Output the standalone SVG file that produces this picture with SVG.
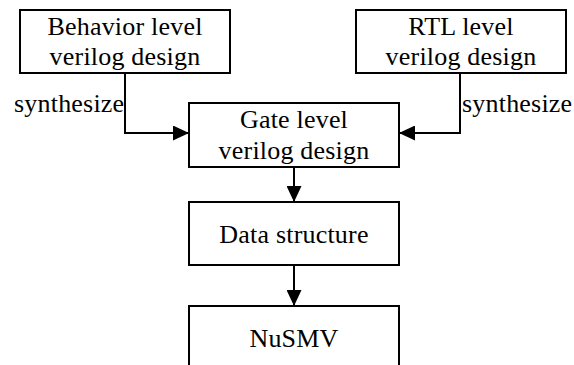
<svg xmlns="http://www.w3.org/2000/svg" width="574" height="365" viewBox="0 0 574 365">
<style>
.box{fill:#fff;stroke:#000;stroke-width:2}
.t{font-family:"Liberation Serif","Times New Roman",serif;font-size:26px;letter-spacing:0.2px;fill:#000}
.c{text-anchor:middle}
.ln{fill:none;stroke:#000;stroke-width:2}
</style>
<defs>
<marker id="ah" viewBox="0 0 16 15" refX="16" refY="7.5" markerWidth="16" markerHeight="15" markerUnits="userSpaceOnUse" orient="auto">
<path d="M0,0 L16,7.5 L0,15 Z" fill="#000"/>
</marker>
</defs>
<rect width="574" height="365" fill="#fff"/>
<g id="connectors">
<polyline class="ln" points="125,73 125,133 189,133" marker-end="url(#ah)"/>
<polyline class="ln" points="460,73 460,133 399,133" marker-end="url(#ah)"/>
<line class="ln" x1="294" y1="167" x2="294" y2="202" marker-end="url(#ah)"/>
<line class="ln" x1="294" y1="265" x2="294" y2="306" marker-end="url(#ah)"/>
<text class="t" x="14" y="112">synthesize</text>
<text class="t" x="462" y="112">synthesize</text>
</g>
<g id="behavior">
<rect class="box" x="20" y="10" width="210" height="63"/>
<text class="t c" x="125" y="35">Behavior level</text>
<text class="t c" x="125" y="65">verilog design</text>
</g>
<g id="rtl">
<rect class="box" x="356" y="10" width="210" height="63"/>
<text class="t c" x="461" y="35">RTL level</text>
<text class="t c" x="461" y="65">verilog design</text>
</g>
<g id="gate">
<rect class="box" x="189" y="103" width="210" height="64"/>
<text class="t c" x="294" y="128">Gate level</text>
<text class="t c" x="294" y="159">verilog design</text>
</g>
<g id="data">
<rect class="box" x="189" y="202" width="210" height="63"/>
<text class="t c" x="294" y="243">Data structure</text>
</g>
<g id="nusmv">
<rect class="box" x="189" y="306" width="210" height="80"/>
<text class="t c" x="294" y="347">NuSMV</text>
</g>
</svg>
